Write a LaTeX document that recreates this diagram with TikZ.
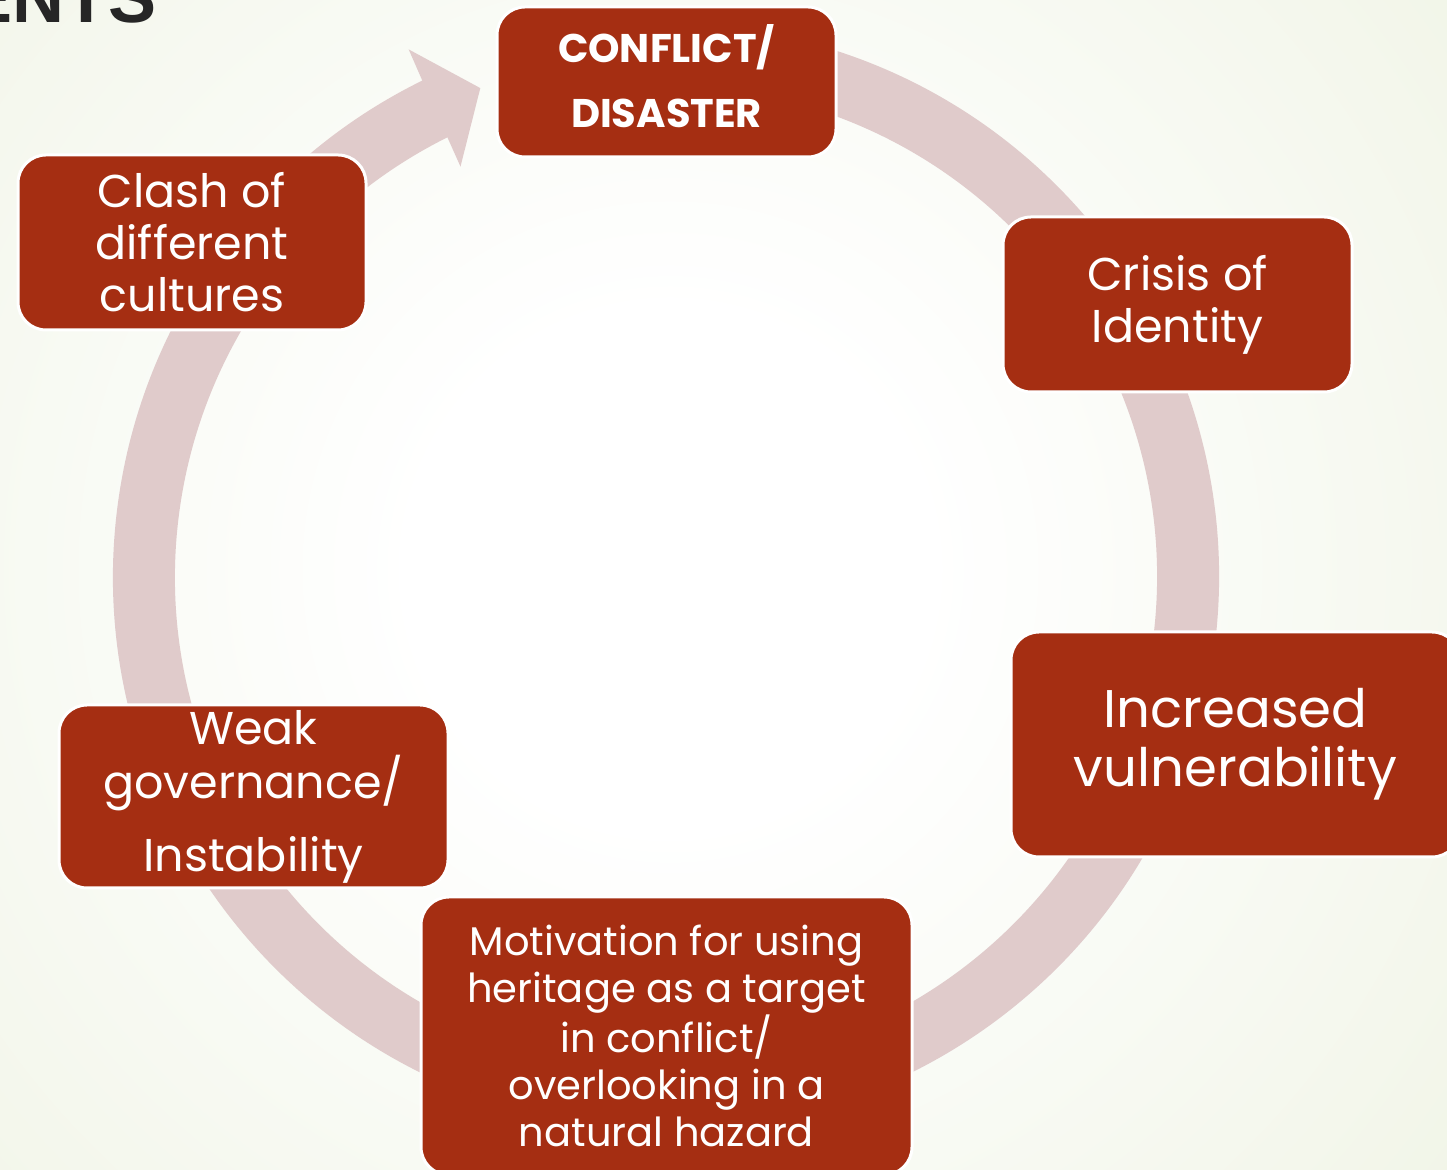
\documentclass[tikz,border=0pt]{standalone}
\usepackage{fontspec}
\setmainfont{Poppins}
\newfontfamily\titlefont{Liberation Sans}
\definecolor{bgedge}{RGB}{226,234,206}
\pgfdeclareradialshading{bgshade}{\pgfpoint{0bp}{0bp}}{color(0bp)=(white); color(8bp)=(white); color(57bp)=(bgedge); color(80bp)=(bgedge)}
\begin{document}
\begin{tikzpicture}[x=1pt,y=1pt,
  stepbox/.style={draw=white,line width=3pt,fill=boxred,rounded corners=28pt,
    text=white,align=center,inner sep=0pt},
  ringline/.style={draw=ringpink,line width=62pt}]
\definecolor{boxred}{RGB}{165,46,18}
\definecolor{ringpink}{RGB}{224,203,203}
\definecolor{titlegray}{RGB}{38,38,38}
\useasboundingbox (0,0) rectangle (1447,1169);
\clip (0,0) rectangle (1447,1169);
\shade[shading=bgshade] (670-800,600-800) rectangle (670+800,600+800);
% ring
\coordinate (c) at (666,592);
\draw[ringline] ([shift={(80:522pt)}]c) arc[start angle=80,end angle=-244,radius=522pt];
\fill[ringpink] ([shift={(116:587pt)}]c) -- ([shift={(110.8:523pt)}]c) -- ([shift={(116.6:459pt)}]c) -- ([shift={(116.3:522pt)}]c) -- cycle;
% title fragment
\node[anchor=base east,text=titlegray,font=\titlefont\bfseries\fontsize{72}{72}\selectfont,inner sep=0pt] (title) at (157,1146) {ENTS};
% boxes
\node[stepbox,minimum width=339pt,minimum height=150pt,text depth=11pt,font=\bfseries\fontsize{40}{65}\selectfont] (conflict) at (666.5,1087) {CONFLICT/\\DISASTER};
\node[stepbox,minimum width=348pt,minimum height=175pt,font=\fontsize{46}{52}\selectfont] (clash) at (192,926.5) {Clash of\\different\\cultures};
\node[stepbox,minimum width=349pt,minimum height=175pt,font=\fontsize{46}{52}\selectfont] (crisis) at (1177.5,864.5) {Crisis of\\Identity};
\node[stepbox,minimum width=449pt,minimum height=225pt,font=\fontsize{53}{59}\selectfont] (increased) at (1235.5,424.5) {Increased\\vulnerability};
\node[stepbox,minimum width=389pt,minimum height=183pt,font=\fontsize{46}{54}\selectfont] (weak) at (253.5,372.5) {Weak\\governance/\\[19pt]Instability};
\node[stepbox,minimum width=491pt,minimum height=278pt,font=\fontsize{40}{47}\selectfont] (motiv) at (666.5,133) {Motivation for using\\heritage as a target\\in conflict/\\overlooking in a\\natural hazard};
\end{tikzpicture}
\end{document}
